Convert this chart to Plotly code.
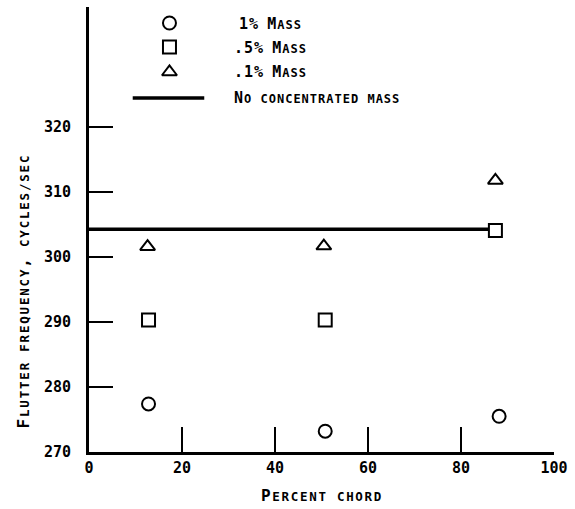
import plotly.graph_objects as go

# Data
circle_x = [12.8, 50.8, 88.2]
circle_y = [277.4, 273.2, 275.5]
square_x = [12.8, 50.8, 87.4]
square_y = [290.3, 290.3, 304.1]
tri_x = [12.6, 50.5, 87.4]
tri_y = [301.6, 301.7, 311.8]
line_x = [0, 87.4]
line_y = [304.3, 304.3]

x_ticks = [0, 20, 40, 60, 80, 100]
y_ticks = [270, 280, 290, 300, 310, 320]

legend_labels = ["1% Mass", ".5% Mass", ".1% Mass", "No concentrated mass"]

FONT = "DejaVu Sans Mono"
BLACK = "#000000"


def smallcaps(txt, big, small, ls):
    """Build small-caps text: lowercase letters (and punctuation/space) rendered as
    smaller capitals, uppercase letters and digits/% at full size."""
    runs = []
    for ch in txt:
        is_big = ch.isupper() or ch.isdigit() or ch in "%.,"
        if runs and runs[-1][0] == is_big:
            runs[-1][1] += ch
        else:
            runs.append([is_big, ch])
    out = ""
    for is_big, s in runs:
        size = big if is_big else small
        out += (f"<span style='font-size:{size}px;letter-spacing:{ls}px'>"
                f"{s.upper()}</span>")
    return out


fig = go.Figure()

fig.add_trace(go.Scatter(x=line_x, y=line_y, mode="lines",
                         line=dict(color=BLACK, width=3.5), showlegend=False))

mk = dict(size=13, color="white", line=dict(color=BLACK, width=2))
fig.add_trace(go.Scatter(x=circle_x, y=circle_y, mode="markers",
                         marker=dict(symbol="circle", **mk), showlegend=False))
fig.add_trace(go.Scatter(x=square_x, y=square_y, mode="markers",
                         marker=dict(symbol="square", **mk), showlegend=False))
fig.add_trace(go.Scatter(x=tri_x, y=tri_y, mode="markers",
                         marker=dict(symbol="triangle-up", **mk), showlegend=False))

# Hand-made legend on a hidden pixel-space overlay axis
fig.add_trace(go.Scatter(x=[170], y=[23], mode="markers", xaxis="x2", yaxis="y2",
                         marker=dict(symbol="circle", **mk), showlegend=False))
fig.add_trace(go.Scatter(x=[170], y=[47], mode="markers", xaxis="x2", yaxis="y2",
                         marker=dict(symbol="square", **mk), showlegend=False))
fig.add_trace(go.Scatter(x=[170], y=[72], mode="markers", xaxis="x2", yaxis="y2",
                         marker=dict(symbol="triangle-up", **mk), showlegend=False))
fig.add_trace(go.Scatter(x=[133, 205], y=[98, 98], mode="lines", xaxis="x2", yaxis="y2",
                         line=dict(color=BLACK, width=3.5), showlegend=False))

leg_font = dict(family=FONT, size=15, color=BLACK, weight="bold")
for lab, lx, ly in zip(legend_labels, [238, 233, 233, 233], [24, 48, 72, 98]):
    fig.add_annotation(x=lx, y=ly, xref="x2", yref="y2",
                       text=smallcaps(lab, 15, 12, 1.0),
                       showarrow=False, xanchor="left", yanchor="middle", font=leg_font)

title_font = dict(family=FONT, size=16, color=BLACK, weight="bold")
fig.add_annotation(x=(23 - 89) / 468, y=(452 - 291) / 445, xref="paper", yref="paper",
                   text=smallcaps("Flutter frequency, cycles/sec", 16, 12.5, 1.8),
                   textangle=-90,
                   showarrow=False, xanchor="center", yanchor="middle", font=title_font)
fig.add_annotation(x=0.5, y=(452 - 496) / 445, xref="paper", yref="paper",
                   text=smallcaps("Percent chord", 16, 12.5, 1.7),
                   showarrow=False, xanchor="center", yanchor="middle", font=title_font)

tick_font = dict(family=FONT, size=15, color=BLACK, weight="bold")

# y tick labels placed on the y scale, right-aligned a fixed gap left of the axis
for v in y_ticks:
    fig.add_annotation(x=(73 - 89) / 468, y=v, xref="paper", yref="y",
                       text=str(v), showarrow=False, xanchor="right",
                       yanchor="middle", font=tick_font)

fig.update_layout(
    width=575, height=509,
    margin=dict(l=89, r=18, t=7, b=57),
    paper_bgcolor="white", plot_bgcolor="white",
    xaxis=dict(range=[0, 100], tickvals=x_ticks, ticks="inside", ticklen=25,
               tickwidth=2, tickcolor=BLACK, showline=True, linewidth=2.5,
               linecolor=BLACK, showgrid=False, zeroline=False,
               tickfont=tick_font),
    yaxis=dict(range=[270, 338.5], tickvals=y_ticks, ticks="inside", ticklen=24,
               tickwidth=2, tickcolor=BLACK, showline=True, linewidth=2.5,
               linecolor=BLACK, showgrid=False, zeroline=False,
               showticklabels=False),
    xaxis2=dict(range=[89, 557], overlaying="x", anchor="y2", visible=False),
    yaxis2=dict(range=[452, 7], overlaying="y", anchor="x2", visible=False),
)

fig.write_html("out.html")
